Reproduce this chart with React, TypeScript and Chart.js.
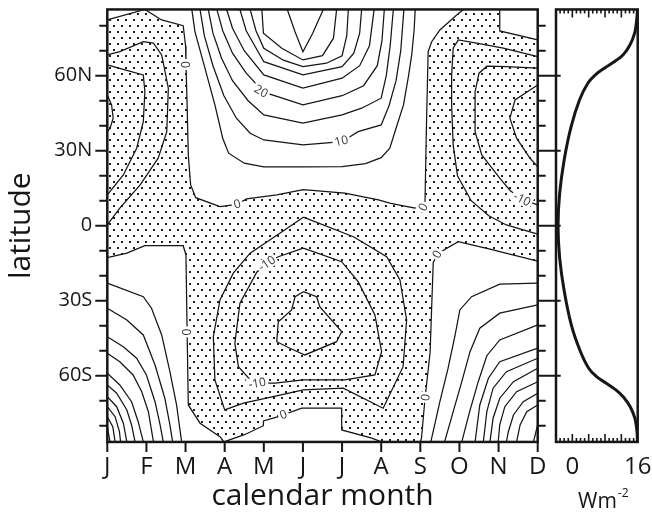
import { useEffect, useRef } from 'react';
import { Chart, registerables } from 'chart.js';

Chart.register(...registerables);

// A point on a contour: [month index (0 = Jan ... 11 = Dec), latitude in degrees]
type Pt = [number, number];

const FONT = '"Open Sans", "DejaVu Sans", sans-serif';
const INK = '#161616';

const monthLetters = ['J', 'F', 'M', 'A', 'M', 'J', 'J', 'A', 'S', 'O', 'N', 'D'];
const latTickValues = [-80, -70, -60, -50, -40, -30, -20, -10, 0, 10, 20, 30, 40, 50, 60, 70, 80];
const latTickText: Record<string, string> = { '60': '60N', '30': '30N', '0': '0', '-30': '30S', '-60': '60S' };
const LAT_EDGE = 86.5;

const fluxTicks = [0, 4, 8, 12, 16];
const fluxTickText: Record<string, string> = { '0': '0', '16': '16' };

// ---- zero contour (boundary of the stippled negative area) ----
const zeroCornerNW: Pt[] = [[0, 82.3], [0.96, 86.5]];
const zeroNorth: Pt[] = [
  [0.96, 86.5], [1.39, 82.3], [1.94, 80], [2.0, 72], [2.01, 65], [2.04, 48.3], [2.07, 28.3],
  [2.13, 16.3], [2.26, 11.2], [2.88, 7.6], [3.31, 8.5], [3.56, 10.7], [4.33, 12.3], [5.01, 14.4],
  [6.07, 13], [6.93, 10.3], [7.22, 9], [7.6, 7.8], [8.02, 6.6], [8.12, 9.6], [8.15, 35],
  [8.2, 69.6], [8.29, 73.6], [8.5, 78.3], [8.93, 84.3], [9.1, 86.5],
];
const zeroCornerNE: Pt[] = [[10.03, 86.5], [10.03, 77.9], [11, 74.3]];
const zeroSouthWest: Pt[] = [
  [0, -12.8], [0.5, -11], [0.96, -8], [1.94, -8], [2.01, -11.7], [2.04, -42], [2.07, -71.7],
  [2.37, -79], [2.88, -84.4], [2.98, -86.5], [3.52, -83.5], [3.99, -80], [3.99, -78.1],
  [4.37, -76.4], [4.97, -73], [5.99, -73], [5.99, -81.7], [6.76, -85], [7.01, -86.5],
];
const zeroSouthEast: Pt[] = [
  [8.0, -86.5], [8.03, -85], [8.12, -69], [8.25, -50.7], [8.33, -14.7], [8.46, -11],
  [8.97, -6.4], [9.86, -9.7], [10.03, -10.4], [11, -14.2],
];

// ---- northern summer maximum: +5 ... +45 ----
const summerNorth: Pt[][] = [
  [[2.16, 86.5], [2.24, 77.6], [2.45, 65.6], [2.75, 48.3], [2.95, 35], [3.1, 29], [3.5, 25], [4, 23.5], [5, 23.5], [6, 23.6], [6.6, 24.8], [7, 27.2], [7.22, 31], [7.4, 40], [7.57, 48.3], [7.7, 60], [7.78, 68.3], [7.84, 78], [7.87, 86.5]],
  [[2.37, 86.5], [2.48, 76], [2.7, 64], [2.98, 52], [3.3, 43], [3.65, 37], [4, 34.3], [5, 32.3], [6, 33.6], [6.41, 37.6], [7, 40.3], [7.2, 48], [7.38, 58], [7.5, 70], [7.58, 86.5]],
  [[2.58, 86.5], [2.7, 77], [2.92, 67], [3.2, 58], [3.6, 50], [4, 44.3], [5, 41], [6, 44.3], [6.5, 47], [7, 51], [7.13, 60], [7.23, 72], [7.31, 86.5]],
  [[2.8, 86.5], [2.95, 78], [3.2, 69], [3.55, 61], [4, 53.4], [5, 48.3], [6, 52], [6.55, 56], [6.9, 64], [7.02, 74], [7.08, 86.5]],
  [[3.05, 86.5], [3.2, 79], [3.5, 70], [4, 60.3], [5, 55], [6, 59], [6.45, 64], [6.7, 72], [6.82, 86.5]],
  [[3.39, 86.5], [3.55, 78], [4, 65.6], [5, 60.3], [6, 63.6], [6.3, 69], [6.45, 77], [6.5, 86.5]],
  [[3.65, 86.5], [3.8, 78], [4, 71], [4.5, 66.2], [5, 63.6], [5.6, 65], [6, 68], [6.12, 76], [6.16, 86.5]],
  [[3.95, 86.5], [3.99, 77], [4.46, 71], [5, 66.3], [5.5, 68], [5.78, 75], [5.86, 86.5]],
  [[4.6, 86.5], [4.8, 77.5], [5, 69.6], [5.25, 77], [5.52, 86.5]],
];

// ---- northern winter minimum, January side: -5, -10, -15 ----
const winterNorthWest: Pt[][] = [
  [[0, 68.3], [0.32, 69.6], [0.92, 73.6], [1.18, 73], [1.39, 68.3], [1.56, 55], [1.52, 37.6], [1.3, 27], [0.84, 16.3], [0.32, 7], [0, 0.3]],
  [[0, 64.3], [0.45, 62.3], [0.92, 60.3], [0.96, 53.6], [0.92, 41.6], [0.75, 31], [0.41, 20.3], [0, 12.3]],
  [[0, 52.3], [0.11, 48.3], [0.15, 43], [0.07, 39], [0, 37.6]],
];

// ---- northern winter minimum, December side: -5, -10, -15 ----
const winterNorthEast: Pt[][] = [
  [[11, 67.6], [10.12, 71], [9.44, 73], [8.97, 74.3], [8.84, 71], [8.8, 60], [8.8, 48.3], [8.84, 32.3], [8.95, 20], [9.3, 10], [9.75, 4], [10.2, 0.3], [11, -3.4]],
  [[11, 63], [10.2, 63.6], [9.7, 63.8], [9.5, 61], [9.4, 53.6], [9.4, 37.6], [9.57, 28.3], [10.03, 19], [10.3, 14], [10.63, 10.3], [11, 8.3]],
  [[11, 56.3], [10.42, 50.3], [10.29, 43], [10.46, 35], [10.8, 27], [11, 23.6]],
];

// ---- southern winter minimum: -5, -10, -15 (closed) ----
const winterSouth: Pt[][] = [
  [[5.01, 3.4], [6.29, -4.4], [7.14, -12.4], [7.48, -21.7], [7.65, -37.7], [7.56, -56.4], [7.05, -73], [6.03, -65], [5.01, -65.7], [4.24, -68.4], [3.48, -71], [3.0, -73.7], [2.75, -61.7], [2.71, -44.4], [2.88, -29.7], [3.22, -19], [3.65, -11], [4.41, -3], [5.01, 3.4]],
  [[5.01, -9], [5.99, -14.4], [6.41, -22.4], [6.84, -35.7], [7.01, -50.4], [6.84, -59.7], [6.07, -61.7], [5.01, -61.7], [4.29, -63], [3.73, -63], [3.35, -56.4], [3.26, -47], [3.39, -31], [3.82, -18.6], [4.07, -15], [4.37, -12.4], [5.01, -9]],
  [[5.01, -26.4], [5.35, -28.4], [5.43, -32.4], [5.99, -42.4], [5.86, -46.4], [5.05, -51.7], [4.67, -49], [4.33, -46.4], [4.37, -38.4], [4.71, -33.7], [4.8, -28.4], [5.01, -26.4]],
];

// ---- southern summer maximum, January side: +5 ... +50 ----
const summerSouthWest: Pt[][] = [
  [[0, -23], [0.92, -28.4], [1.13, -33], [1.39, -43.7], [1.6, -58.4], [1.77, -71.7], [1.9, -86.5]],
  [[0, -33], [0.5, -37.7], [0.92, -43.7], [1.22, -55.7], [1.47, -69], [1.6, -79.7], [1.67, -86.5]],
  [[0, -44.4], [0.41, -48.4], [0.75, -53], [1.0, -59.7], [1.22, -70.4], [1.35, -79.7], [1.43, -86.5]],
  [[0, -51], [0.32, -54.4], [0.66, -59.7], [0.88, -66.4], [1.05, -74.4], [1.18, -86.5]],
  [[0, -59], [0.32, -63.7], [0.62, -70.4], [0.79, -78.4], [0.92, -86.5]],
  [[0, -63.7], [0.24, -67], [0.5, -73.7], [0.62, -79.7], [0.71, -86.5]],
  [[0, -68.4], [0.24, -72.4], [0.41, -79], [0.5, -86.5]],
  [[0, -72.4], [0.2, -76.4], [0.31, -82.4], [0.34, -86.5]],
  [[0, -76.4], [0.14, -80.4], [0.2, -86.5]],
  [[0, -80.4], [0.07, -86.5]],
];

// ---- southern summer maximum, December side: +5 ... +50 ----
const summerSouthEast: Pt[][] = [
  [[11, -23], [10.03, -23.4], [9.31, -28.4], [9.01, -33.7], [8.89, -43.7], [8.71, -57], [8.5, -70.4], [8.29, -85], [8.27, -86.5]],
  [[11, -31.7], [10.03, -35], [9.52, -41], [9.27, -50.4], [9.06, -62.4], [8.84, -74.4], [8.62, -86.5]],
  [[11, -39.7], [10.03, -45.7], [9.7, -52], [9.48, -62.4], [9.25, -75], [9.06, -86.5]],
  [[11, -49], [10.03, -54.4], [9.74, -61], [9.52, -71.7], [9.4, -86.5]],
  [[11, -53], [10.2, -58.4], [9.86, -65], [9.7, -74.4], [9.61, -86.5]],
  [[11, -57], [10.38, -62.4], [10.03, -69], [9.86, -77], [9.78, -86.5]],
  [[11, -62.4], [10.46, -66.4], [10.16, -72.4], [10.03, -79.7], [9.99, -86.5]],
  [[11, -67], [10.63, -70.4], [10.38, -75.7], [10.25, -82.4], [10.2, -86.5]],
  [[11, -71.7], [10.72, -74.4], [10.55, -79.7], [10.46, -86.5]],
  [[11, -79.7], [10.89, -86.5]],
];

// contour labels: text, position [month, latitude], rotation in degrees
const contourLabels: { text: string; at: Pt; rot: number }[] = [
  { text: '0', at: [2.02, 64.5], rot: -90 },
  { text: '0', at: [3.32, 8.7], rot: -16 },
  { text: '20', at: [3.93, 53.8], rot: 29 },
  { text: '10', at: [5.98, 33.9], rot: -13 },
  { text: '0', at: [8.07, 7.4], rot: -62 },
  { text: '-10', at: [10.6, 10.6], rot: 27 },
  { text: '-10', at: [4.08, -15.1], rot: -34 },
  { text: '-10', at: [3.83, -63], rot: -10 },
  { text: '0', at: [2.04, -42.5], rot: -90 },
  { text: '0', at: [4.5, -75.6], rot: -20 },
  { text: '0', at: [8.43, -11.4], rot: -60 },
  { text: '0', at: [8.13, -68.7], rot: -80 },
];

// zonal mean amplitude profile (W m-2) against latitude
const profileLat = [86.5, 82.3, 77, 72.3, 68.3, 65.6, 63.2, 60.7, 57, 50.3, 39.6, 26.3, 13, 0, -13, -26, -40, -50, -57, -60.5, -63, -65.5, -68.5, -72.5, -77, -82, -86.5];
const profileVal = [15.95, 15.75, 15.25, 14.1, 12.4, 10.25, 8, 5.9, 3.8, 1.75, -0.3, -2, -3.1, -3.5, -3.1, -2.0, -0.2, 1.9, 4.0, 6.0, 8.3, 10.5, 12.5, 14.2, 15.3, 15.8, 15.95];

const contourLines: Pt[][] = [
  zeroCornerNW, zeroNorth, zeroCornerNE, zeroSouthWest, zeroSouthEast,
  ...summerNorth, ...winterNorthWest, ...winterNorthEast, ...winterSouth,
  ...summerSouthWest, ...summerSouthEast,
];

const negativeOutline = (): Pt[] => [
  ...zeroCornerNW, ...zeroNorth, ...zeroCornerNE,
  ...[...zeroSouthEast].reverse(), ...[...zeroSouthWest].reverse(),
];

function stipple(ctx: CanvasRenderingContext2D) {
  const tile = document.createElement('canvas');
  tile.width = 8;
  tile.height = 12;
  const t = tile.getContext('2d')!;
  t.fillStyle = '#1e1e1e';
  t.fillRect(1, 1, 2, 2);
  t.fillRect(5, 7, 2, 2);
  return ctx.createPattern(tile, 'repeat');
}

const fieldDecor = {
  id: 'fieldDecor',
  beforeDatasetsDraw(chart: any) {
    const { ctx, chartArea: a } = chart;
    const sx = chart.scales.x;
    const sy = chart.scales.y;
    ctx.save();
    ctx.beginPath();
    ctx.rect(a.left, a.top, a.right - a.left, a.bottom - a.top);
    ctx.clip();
    ctx.beginPath();
    negativeOutline().forEach(([m, lat], i) => {
      const px = sx.getPixelForValue(m);
      const py = sy.getPixelForValue(lat);
      if (i === 0) ctx.moveTo(px, py);
      else ctx.lineTo(px, py);
    });
    ctx.closePath();
    const pat = stipple(ctx);
    if (pat) {
      ctx.fillStyle = pat;
      ctx.fill();
    }
    ctx.restore();
  },
  afterDatasetsDraw(chart: any) {
    const { ctx } = chart;
    const sx = chart.scales.x;
    const sy = chart.scales.y;
    ctx.save();
    ctx.font = `12px ${FONT}`;
    ctx.textAlign = 'center';
    ctx.textBaseline = 'middle';
    for (const lb of contourLabels) {
      const px = sx.getPixelForValue(lb.at[0]);
      const py = sy.getPixelForValue(lb.at[1]);
      ctx.save();
      ctx.translate(px, py);
      ctx.rotate((lb.rot * Math.PI) / 180);
      const w = ctx.measureText(lb.text).width;
      ctx.fillStyle = '#ffffff';
      ctx.fillRect(-w / 2 - 2, -6, w + 4, 12);
      ctx.fillStyle = '#333333';
      ctx.fillText(lb.text, 0, 0.5);
      ctx.restore();
    }
    ctx.restore();
  },
  afterDraw(chart: any) {
    const { ctx, chartArea: a } = chart;
    const sx = chart.scales.x;
    const sy = chart.scales.y;
    ctx.save();
    ctx.strokeStyle = INK;
    ctx.lineWidth = 2;
    ctx.beginPath();
    for (const lat of latTickValues) {
      const py = sy.getPixelForValue(lat);
      const major = lat % 30 === 0;
      ctx.moveTo(a.left - (major ? 12 : 8), py);
      ctx.lineTo(a.left, py);
      ctx.moveTo(a.right, py);
      ctx.lineTo(a.right + (major ? 23 : 8), py);
    }
    monthLetters.forEach((_, i) => {
      const px = sx.getPixelForValue(i);
      ctx.moveTo(px, a.bottom);
      ctx.lineTo(px, a.bottom + 10);
    });
    ctx.stroke();
    ctx.lineWidth = 2.5;
    ctx.strokeRect(a.left, a.top, a.right - a.left, a.bottom - a.top);
    ctx.restore();
  },
};

const profileDecor = {
  id: 'profileDecor',
  afterDraw(chart: any) {
    const { ctx, chartArea: a } = chart;
    const sx = chart.scales.x;
    ctx.save();
    ctx.strokeStyle = INK;
    ctx.lineWidth = 1.6;
    ctx.beginPath();
    for (let v = -3; v <= 15; v++) {
      const px = sx.getPixelForValue(v);
      const len = v % 4 === 0 ? 8 : 4;
      ctx.moveTo(px, a.top);
      ctx.lineTo(px, a.top + len);
      ctx.moveTo(px, a.bottom);
      ctx.lineTo(px, a.bottom - len);
    }
    ctx.stroke();
    ctx.lineWidth = 2.5;
    ctx.strokeRect(a.left, a.top, a.right - a.left, a.bottom - a.top);
    // unit label with superscript
    ctx.fillStyle = INK;
    ctx.textBaseline = 'alphabetic';
    ctx.textAlign = 'left';
    ctx.font = `21px ${FONT}`;
    const x0 = a.left + 22;
    ctx.fillText('Wm', x0, 508);
    const w = ctx.measureText('Wm').width;
    ctx.font = `12px ${FONT}`;
    ctx.fillText('-2', x0 + w + 1, 497);
    ctx.restore();
  },
};

export default function App() {
  const fieldRef = useRef<HTMLCanvasElement>(null);
  const profileRef = useRef<HTMLCanvasElement>(null);

  useEffect(() => {
    const field = new Chart(fieldRef.current!, {
      type: 'scatter',
      data: {
        datasets: contourLines.map((line) => ({
          data: line.map(([m, lat]) => ({ x: m, y: lat })),
          showLine: true,
          borderColor: '#151515',
          borderWidth: 1.25,
          pointRadius: 0,
          tension: 0,
          fill: false,
        })),
      },
      options: {
        responsive: false,
        animation: false,
        events: [],
        layout: { padding: { left: 0, top: 9.45, right: 28.3, bottom: 0 } },
        plugins: { legend: { display: false }, tooltip: { enabled: false } },
        scales: {
          x: {
            type: 'linear',
            position: 'bottom',
            min: 0,
            max: 11,
            afterBuildTicks: (s: any) => {
              s.ticks = monthLetters.map((_, i) => ({ value: i }));
            },
            afterFit: (s: any) => {
              s.height = 76.05;
              s.paddingLeft = 0;
              s.paddingRight = 0;
            },
            grid: { display: false, drawTicks: false },
            border: { display: false },
            ticks: {
              autoSkip: false,
              maxRotation: 0,
              padding: 11,
              color: INK,
              font: { family: FONT, size: 24 },
              callback: (v: any) => monthLetters[Math.round(Number(v))] ?? null,
            },
            title: {
              display: true,
              text: 'calendar month',
              color: INK,
              font: { family: FONT, size: 30 },
              padding: { top: 0, bottom: 4 },
            },
          },
          y: {
            type: 'linear',
            min: -LAT_EDGE,
            max: LAT_EDGE,
            afterBuildTicks: (s: any) => {
              s.ticks = latTickValues.map((v) => ({ value: v }));
            },
            afterFit: (s: any) => {
              s.width = 107.3;
              s.paddingTop = 0;
              s.paddingBottom = 0;
            },
            grid: { display: false, drawTicks: false },
            border: { display: false },
            ticks: {
              autoSkip: false,
              padding: 15,
              color: INK,
              font: { family: FONT, size: 20 },
              callback: (v: any) => latTickText[String(v)] ?? null,
            },
            title: {
              display: true,
              text: 'latitude',
              color: INK,
              font: { family: FONT, size: 30 },
              padding: { top: 3, bottom: 0 },
            },
          },
        },
      },
      plugins: [fieldDecor],
    } as any);

    const profile = new Chart(profileRef.current!, {
      type: 'scatter',
      data: {
        datasets: [
          {
            data: profileLat.map((lat, i) => ({ x: profileVal[i], y: lat })),
            showLine: true,
            borderColor: INK,
            borderWidth: 3,
            pointRadius: 0,
            tension: 0.3,
            fill: false,
          },
        ],
      },
      options: {
        responsive: false,
        animation: false,
        events: [],
        layout: { padding: { left: 0, top: 9.45, right: 28.3, bottom: 0 } },
        plugins: { legend: { display: false }, tooltip: { enabled: false } },
        scales: {
          x: {
            type: 'linear',
            position: 'bottom',
            min: -4,
            max: 16,
            afterBuildTicks: (s: any) => {
              s.ticks = fluxTicks.map((v) => ({ value: v }));
            },
            afterFit: (s: any) => {
              s.height = 76.05;
              s.paddingLeft = 0;
              s.paddingRight = 0;
            },
            grid: { display: false, drawTicks: false },
            border: { display: false },
            ticks: {
              autoSkip: false,
              maxRotation: 0,
              padding: 11,
              color: INK,
              font: { family: FONT, size: 24 },
              callback: (v: any) => fluxTickText[String(v)] ?? null,
            },
          },
          y: {
            type: 'linear',
            min: -LAT_EDGE,
            max: LAT_EDGE,
            afterFit: (s: any) => {
              s.width = 15;
              s.paddingTop = 0;
              s.paddingBottom = 0;
            },
            grid: { display: false, drawTicks: false },
            border: { display: false },
            ticks: { display: false },
          },
        },
      },
      plugins: [profileDecor],
    } as any);

    return () => {
      field.destroy();
      profile.destroy();
    };
  }, []);

  return (
    <div
      style={{
        position: 'fixed',
        left: 0,
        top: 0,
        width: 652,
        height: 518,
        overflow: 'hidden',
        background: '#ffffff',
      }}
    >
      <canvas ref={fieldRef} width={566} height={518} style={{ position: 'absolute', left: 0, top: 0 }} />
      <canvas ref={profileRef} width={125} height={518} style={{ position: 'absolute', left: 541, top: 0 }} />
    </div>
  );
}
